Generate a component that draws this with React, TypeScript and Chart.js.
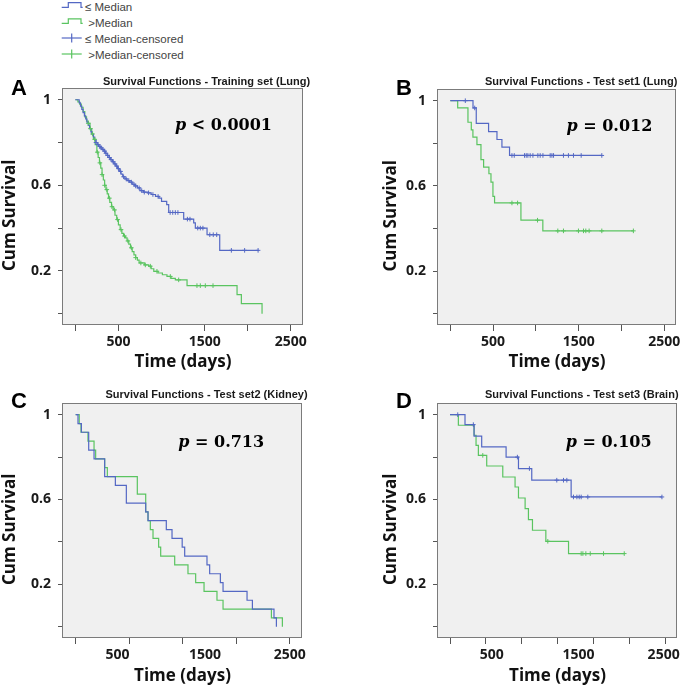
import React, { useEffect, useRef } from 'react';
import { Chart, registerables } from 'chart.js';
Chart.register(...registerables);

const BLUE = '#5468c4';
const GREEN = '#5ac460';

// ---------- Panel A: Training set (Lung) ----------
const trainLowTimes = [0, 45, 60, 75, 90, 105, 120, 135, 150, 165, 180, 195, 210, 225, 240, 255, 270, 290, 310, 330, 350, 370, 390, 410, 430, 450, 470, 490, 510, 530, 550, 575, 600, 630, 660, 690, 720, 750, 790, 840, 880, 930, 970, 1000, 1060, 1083, 1257, 1373, 1392, 1528, 1675, 2127];
const trainLowSurv = [1, 0.985, 0.97, 0.955, 0.94, 0.925, 0.91, 0.895, 0.88, 0.865, 0.85, 0.838, 0.826, 0.812, 0.8, 0.79, 0.782, 0.775, 0.768, 0.76, 0.75, 0.74, 0.73, 0.72, 0.71, 0.7, 0.69, 0.678, 0.665, 0.652, 0.64, 0.63, 0.622, 0.615, 0.605, 0.597, 0.588, 0.575, 0.568, 0.565, 0.557, 0.548, 0.54, 0.525, 0.51, 0.473, 0.442, 0.424, 0.4, 0.369, 0.296, 0.296];
const trainLowCensored = [240, 265, 285, 300, 320, 340, 355, 375, 395, 415, 440, 460, 480, 500, 525, 560, 590, 620, 650, 680, 700, 740, 770, 800, 850, 900, 960, 1100, 1130, 1160, 1190, 1300, 1330, 1420, 1450, 1480, 1560, 1600, 1640, 1810, 1964, 2120];
const trainHighTimes = [0, 30, 50, 70, 90, 110, 130, 150, 170, 190, 210, 230, 250, 265, 280, 295, 310, 325, 340, 355, 370, 385, 400, 420, 440, 460, 480, 500, 520, 540, 560, 580, 600, 620, 640, 660, 680, 700, 720, 740, 800, 850, 880, 910, 960, 1010, 1063, 1110, 1160, 1296, 1876, 1926, 2166];
const trainHighSurv = [1, 0.99, 0.98, 0.965, 0.945, 0.92, 0.9, 0.89, 0.865, 0.84, 0.815, 0.79, 0.755, 0.73, 0.705, 0.68, 0.65, 0.625, 0.6, 0.58, 0.56, 0.54, 0.52, 0.5, 0.485, 0.46, 0.44, 0.415, 0.393, 0.375, 0.363, 0.354, 0.34, 0.325, 0.308, 0.29, 0.275, 0.262, 0.25, 0.237, 0.228, 0.222, 0.21, 0.198, 0.19, 0.182, 0.174, 0.165, 0.158, 0.131, 0.089, 0.047, 0];
const trainHighCensored = [150, 175, 200, 225, 255, 285, 310, 340, 365, 395, 425, 455, 490, 530, 570, 610, 650, 700, 760, 812, 870, 947, 1102, 1199, 1411, 1450, 1508, 1597];

// ---------- Panel B: Test set1 (Lung) ----------
const test1LowTimes = [0, 265, 303, 447, 545, 603, 692, 1770];
const test1LowSurv = [1, 0.966, 0.894, 0.855, 0.818, 0.782, 0.743, 0.743];
const test1LowCensored = [175, 285, 720, 747, 867, 887, 906, 933, 965, 1023, 1050, 1082, 1167, 1187, 1206, 1322, 1380, 1439, 1529, 1770];
const test1HighTimes = [0, 86, 206, 245, 264, 311, 358, 389, 451, 475, 498, 517, 825, 1081, 2139];
const test1HighSurv = [1, 0.966, 0.899, 0.863, 0.829, 0.794, 0.723, 0.688, 0.657, 0.618, 0.551, 0.52, 0.439, 0.389, 0.389];
const test1HighCensored = [720, 786, 1019, 1256, 1322, 1497, 1556, 1583, 1622, 1770, 2139];

// ---------- Panel C: Test set2 (Kidney) ----------
const test2LowTimes = [0, 26, 64, 146, 206, 325, 445, 568, 785, 811, 1016, 1080, 1194, 1222, 1472, 1502, 1622, 1652, 1921, 1981, 2223, 2250];
const test2LowSurv = [1, 0.958, 0.917, 0.833, 0.792, 0.708, 0.667, 0.583, 0.542, 0.5, 0.458, 0.417, 0.375, 0.333, 0.292, 0.25, 0.208, 0.167, 0.125, 0.083, 0.042, 0];
const test2LowCensored: number[] = [];
const test2HighTimes = [0, 40, 60, 138, 206, 224, 325, 355, 691, 785, 811, 837, 867, 930, 953, 1110, 1259, 1345, 1439, 1584, 1652, 2194, 2317];
const test2HighSurv = [1, 0.958, 0.917, 0.875, 0.833, 0.792, 0.75, 0.708, 0.625, 0.542, 0.5, 0.458, 0.417, 0.375, 0.333, 0.292, 0.25, 0.208, 0.167, 0.125, 0.083, 0.042, 0];
const test2HighCensored: number[] = [];

// ---------- Panel D: Test set3 (Brain) ----------
const test3LowTimes = [0, 167, 268, 353, 625, 763, 911, 1350, 2362];
const test3LowSurv = [1, 0.953, 0.899, 0.848, 0.8, 0.746, 0.691, 0.612, 0.612];
const test3LowCensored = [86, 260, 751, 885, 1190, 1265, 1302, 1376, 1414, 1440, 1462, 1536, 2362];
const test3HighTimes = [0, 93, 268, 290, 316, 409, 588, 725, 763, 837, 874, 919, 1068, 1321, 1942];
const test3HighSurv = [1, 0.95, 0.903, 0.855, 0.808, 0.758, 0.706, 0.659, 0.607, 0.557, 0.505, 0.455, 0.403, 0.345, 0.345];
const test3HighCensored = [365, 1090, 1462, 1481, 1514, 1563, 1711, 1942];

// ---------- Axis ticks and labels ----------
const yTickValues = [0, 0.2, 0.4, 0.6, 0.8, 1];
const yTickLabels = ['', '0.2', '', '0.6', '', '1'];
const xLabelText = ['500', '1500', '2500'];
const xTicksAB = [0, 500, 1000, 1500, 2000, 2500];
const xLabelPosAB = [500, 1500, 2500];
const xTicksC = [0, 600, 1200, 1800, 2400];
const xLabelPosC = [470, 1450, 2400];
const xTicksD = [0, 400, 800, 1200, 1600, 2000, 2400];
const xLabelPosD = [465, 1432, 2381];

const panelTitles = [
  'Survival Functions - Training set (Lung)',
  'Survival Functions - Test set1 (Lung)',
  'Survival Functions - Test set2 (Kidney)',
  'Survival Functions - Test set3 (Brain)',
];
const panelLetters = ['A', 'B', 'C', 'D'];
const pOps = ['<', '=', '=', '='];
const pValues = ['0.0001', '0.012', '0.713', '0.105'];
const legendLabels = ['\u2264 Median', ' >Median', '\u2264 Median-censored', ' >Median-censored'];

function survAt(times: number[], surv: number[], t: number) {
  let s = surv[0];
  for (let i = 0; i < times.length; i++) {
    if (times[i] <= t) s = surv[i];
    else break;
  }
  return s;
}
const pts = (t: number[], s: number[]) => t.map((x, i) => ({ x, y: s[i] }));
const cens = (c: number[], t: number[], s: number[]) => c.map((x) => ({ x, y: survAt(t, s, x) }));

type Cfg = {
  canvas: { left: number; top: number; width: number; height: number };
  area: { left: number; top: number; right: number; bottom: number };
  xMin: number; xMax: number;
  xTicks: number[]; xLabelPos: number[];
  low: [number[], number[], number[]];
  high: [number[], number[], number[]];
};

const panels: Cfg[] = [
  {
    canvas: { left: 0, top: 70, width: 315, height: 302 },
    area: { left: 63, top: 88, right: 303, bottom: 325 },
    xMin: -143, xMax: 2641, xTicks: xTicksAB, xLabelPos: xLabelPosAB,
    low: [trainLowTimes, trainLowSurv, trainLowCensored],
    high: [trainHighTimes, trainHighSurv, trainHighCensored],
  },
  {
    canvas: { left: 381, top: 70, width: 304, height: 302 },
    area: { left: 438, top: 89, right: 676, bottom: 325 },
    xMin: -144, xMax: 2637, xTicks: xTicksAB, xLabelPos: xLabelPosAB,
    low: [test1LowTimes, test1LowSurv, test1LowCensored],
    high: [test1HighTimes, test1HighSurv, test1HighCensored],
  },
  {
    canvas: { left: 0, top: 385, width: 315, height: 301 },
    area: { left: 63, top: 403, right: 302, bottom: 638 },
    xMin: -142, xMax: 2537, xTicks: xTicksC, xLabelPos: xLabelPosC,
    low: [test2LowTimes, test2LowSurv, test2LowCensored],
    high: [test2HighTimes, test2HighSurv, test2HighCensored],
  },
  {
    canvas: { left: 381, top: 385, width: 304, height: 301 },
    area: { left: 438, top: 403, right: 677, bottom: 638 },
    xMin: -134, xMax: 2530, xTicks: xTicksD, xLabelPos: xLabelPosD,
    low: [test3LowTimes, test3LowSurv, test3LowCensored],
    high: [test3HighTimes, test3HighSurv, test3HighCensored],
  },
];

const boxPlugin = {
  id: 'kmBox',
  beforeDraw(chart: any) {
    const { ctx, chartArea } = chart;
    const { left, top, right, bottom } = chartArea;
    ctx.save();
    ctx.fillStyle = '#f0f0f0';
    ctx.fillRect(left, top, right - left, bottom - top);
    ctx.restore();
  },
  afterDraw(chart: any) {
    const { ctx, chartArea } = chart;
    const l = Math.round(chartArea.left), t = Math.round(chartArea.top);
    const r = Math.round(chartArea.right), b = Math.round(chartArea.bottom);
    ctx.save();
    ctx.strokeStyle = '#7b7b7b';
    ctx.lineWidth = 1;
    ctx.strokeRect(l - 0.5, t + 0.5, r - l, b - t - 1);
    ctx.restore();
  },
};

const tickFont = { family: "'Open Sans', sans-serif", size: 14, weight: 'bold' as const };
const titleFont = { family: "'Open Sans', sans-serif", size: 17, weight: 'bold' as const };

function KMPanel({ cfg }: { cfg: Cfg }) {
  const ref = useRef<HTMLCanvasElement>(null);
  useEffect(() => {
    const c = cfg;
    const tickSet = new Set(c.xTicks);
    const allX = Array.from(new Set([...c.xTicks, ...c.xLabelPos])).sort((a, b) => a - b);
    const lineDs = (d: any[], color: string) => ({
      data: d, borderColor: color, borderWidth: 1.2, stepped: true, pointRadius: 0,
      fill: false, tension: 0, order: 2,
    });
    const censDs = (d: any[], color: string) => ({
      data: d, showLine: false, pointStyle: 'cross', pointRadius: 2.3,
      pointBorderColor: color, pointBorderWidth: 1, borderColor: color, order: 1,
    });
    const chart = new Chart(ref.current as HTMLCanvasElement, {
      type: 'line',
      data: {
        datasets: [
          lineDs(pts(c.low[0], c.low[1]), BLUE),
          lineDs(pts(c.high[0], c.high[1]), GREEN),
          censDs(cens(c.low[2], c.low[0], c.low[1]), BLUE),
          censDs(cens(c.high[2], c.high[0], c.high[1]), GREEN),
        ] as any,
      },
      options: {
        animation: false,
        responsive: false,
        events: [],
        layout: {
          padding: {
            left: 0,
            top: c.area.top - c.canvas.top,
            right: c.canvas.left + c.canvas.width - c.area.right,
            bottom: 0,
          },
        },
        plugins: { legend: { display: false }, tooltip: { enabled: false }, title: { display: false } },
        scales: {
          x: {
            type: 'linear',
            min: c.xMin,
            max: c.xMax,
            afterBuildTicks: (axis: any) => { axis.ticks = allX.map((v) => ({ value: v })); },
            afterFit: (axis: any) => { axis.height = c.canvas.top + c.canvas.height - c.area.bottom; },
            ticks: {
              autoSkip: false, maxRotation: 0, padding: 3, color: '#1a1a1a', font: tickFont,
              callback: (v: any) => { const i = c.xLabelPos.indexOf(Number(v)); return i >= 0 ? xLabelText[i] : ''; },
            },
            grid: {
              display: true, drawOnChartArea: false, drawTicks: true, tickLength: 6, tickWidth: 1,
              tickColor: (ctx: any) => (ctx.tick && tickSet.has(ctx.tick.value) ? '#555' : 'rgba(0,0,0,0)'),
            },
            border: { display: false },
            title: { display: true, text: 'Time (days)', color: '#111', font: titleFont, padding: 0 },
          },
          y: {
            type: 'linear',
            min: -0.053,
            max: 1.055,
            afterBuildTicks: (axis: any) => { axis.ticks = yTickValues.map((v) => ({ value: v })); },
            afterFit: (axis: any) => { axis.width = c.area.left - c.canvas.left; },
            ticks: {
              autoSkip: false, padding: 7, color: '#1a1a1a', font: tickFont,
              callback: (_v: any, i: number) => yTickLabels[i],
            },
            grid: { display: true, drawOnChartArea: false, drawTicks: true, tickLength: 5, tickColor: '#555' },
            border: { display: false },
            title: { display: true, text: 'Cum Survival    ', color: '#111', font: titleFont, padding: 0 },
          },
        },
      } as any,
      plugins: [boxPlugin],
    });
    return () => chart.destroy();
  }, [cfg]);
  return (
    <canvas
      ref={ref}
      width={cfg.canvas.width}
      height={cfg.canvas.height}
      style={{ position: 'absolute', left: cfg.canvas.left, top: cfg.canvas.top }}
    />
  );
}

const letterPos = [{ left: 11, top: 77 }, { left: 396, top: 77 }, { left: 11, top: 390 }, { left: 396, top: 390 }];
const titlePos = [{ left: 103, top: 74.5 }, { left: 485, top: 74.7 }, { left: 105.5, top: 388.2 }, { left: 485, top: 388.2 }];
const pPos = [{ left: 175, top: 115.2 }, { left: 566.5, top: 115.5 }, { left: 178.3, top: 432.2 }, { left: 565.7, top: 432.2 }];

function Legend() {
  const rows = [0, 15.8, 31.6, 47.6];
  return (
    <>
      <svg width={100} height={64} style={{ position: 'absolute', left: 0, top: 0 }}>
        <polyline points={`61.7,7.3 68.3,7.3 68.3,2.7 81,2.7 81,7.3 82.7,7.3`} fill="none" stroke={BLUE} strokeWidth={1.2} />
        <polyline points={`61.7,23.3 68.3,23.3 68.3,18.8 81,18.8 81,23.3 82.7,23.3`} fill="none" stroke={GREEN} strokeWidth={1.2} />
        <line x1={61.7} y1={38} x2={81.7} y2={38} stroke={BLUE} strokeWidth={1.2} />
        <line x1={71.7} y1={33.5} x2={71.7} y2={42.5} stroke={BLUE} strokeWidth={1.2} />
        <line x1={61.7} y1={54} x2={81.7} y2={54} stroke={GREEN} strokeWidth={1.2} />
        <line x1={71.7} y1={49.5} x2={71.7} y2={58.5} stroke={GREEN} strokeWidth={1.2} />
      </svg>
      {legendLabels.map((t, i) => (
        <div
          key={i}
          style={{
            position: 'absolute', left: 85, top: rows[i], height: 14, lineHeight: '14px',
            fontFamily: "'Liberation Sans', Arial, sans-serif", fontSize: 11.5, color: '#444', whiteSpace: 'pre',
          }}
        >
          {t}
        </div>
      ))}
    </>
  );
}

export default function App() {
  return (
    <div style={{ position: 'absolute', left: 0, top: 0, width: 685, height: 687, background: '#fff', overflow: 'hidden' }}>
      <Legend />
      {panels.map((p, i) => (
        <KMPanel key={i} cfg={p} />
      ))}
      {panelLetters.map((l, i) => (
        <div
          key={'l' + i}
          style={{
            position: 'absolute', left: letterPos[i].left, top: letterPos[i].top, lineHeight: '22px',
            fontFamily: "'Liberation Sans', Arial, sans-serif", fontWeight: 'bold', fontSize: 22, color: '#000',
          }}
        >
          {l}
        </div>
      ))}
      {panelTitles.map((t, i) => (
        <div
          key={'t' + i}
          style={{
            position: 'absolute', left: titlePos[i].left, top: titlePos[i].top, lineHeight: '13px',
            fontFamily: "'Liberation Sans', Arial, sans-serif", fontWeight: 'bold', fontSize: 11, color: '#1a1a1a',
            whiteSpace: 'nowrap',
          }}
        >
          {t}
        </div>
      ))}
      {pValues.map((v, i) => (
        <div
          key={'p' + i}
          style={{
            position: 'absolute', left: pPos[i].left, top: pPos[i].top, lineHeight: '20px',
            fontFamily: "'DejaVu Serif', serif", fontWeight: 'bold', fontSize: 16, color: '#000', whiteSpace: 'pre',
          }}
        >
          <span style={{ fontStyle: 'italic' }}>p</span>
          {` ${pOps[i]} ${v}`}
        </div>
      ))}
    </div>
  );
}
